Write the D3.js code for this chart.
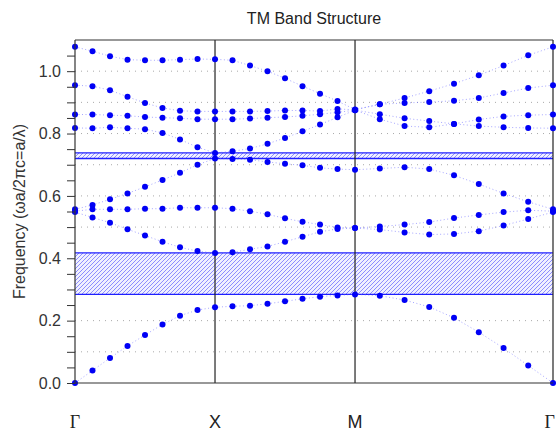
<!DOCTYPE html>
<html>
<head>
<meta charset="utf-8">
<script src="https://cdn.jsdelivr.net/npm/d3@7"></script>
<style>
  body { margin: 0; background: #fff; }
  svg { display: block; font-family: "Liberation Sans", Arial, sans-serif; }
</style>
</head>
<body>
<div id="chart"></div>
<script>
// k-path distance of every sampled k-point (Γ-X, X-M, M-Γ; 8 steps each)
const kPath = [0, 0.125, 0.25, 0.375, 0.5, 0.625, 0.75, 0.875, 1,
  1.125, 1.25, 1.375, 1.5, 1.625, 1.75, 1.875, 2,
  2.177, 2.354, 2.530, 2.707, 2.884, 3.061, 3.237, 3.414];
const kLabels = ['Γ', 'X', 'M', 'Γ'];
const kLabelPos = [0, 1, 2, 3.414];

// TM bands, normalized frequency ωa/2πc
const band1 = [0, 0.040, 0.080, 0.119, 0.154, 0.188, 0.216, 0.234, 0.243,
  0.246, 0.248, 0.254, 0.262, 0.270, 0.277, 0.281, 0.284,
  0.280, 0.266, 0.244, 0.209, 0.163, 0.112, 0.056, 0];
const band2 = [0.548, 0.531, 0.514, 0.493, 0.473, 0.453, 0.435, 0.423, 0.417,
  0.419, 0.429, 0.438, 0.453, 0.469, 0.485, 0.494, 0.497,
  0.492, 0.483, 0.476, 0.478, 0.487, 0.505, 0.526, 0.548];
const band3 = [0.551, 0.557, 0.557, 0.557, 0.559, 0.559, 0.562, 0.562, 0.562,
  0.559, 0.551, 0.541, 0.528, 0.517, 0.508, 0.499, 0.497,
  0.502, 0.508, 0.516, 0.529, 0.539, 0.548, 0.554, 0.551];
const band4 = [0.557, 0.571, 0.589, 0.608, 0.629, 0.651, 0.674, 0.700, 0.720,
  0.718, 0.716, 0.709, 0.703, 0.698, 0.690, 0.686, 0.684,
  0.688, 0.692, 0.686, 0.666, 0.638, 0.608, 0.581, 0.557];
const band5 = [0.818, 0.817, 0.820, 0.817, 0.814, 0.802, 0.781, 0.756, 0.738,
  0.743, 0.752, 0.767, 0.786, 0.807, 0.829, 0.852, 0.875,
  0.846, 0.824, 0.820, 0.831, 0.824, 0.820, 0.818, 0.817];
const band6 = [0.861, 0.861, 0.859, 0.857, 0.853, 0.851, 0.849, 0.846, 0.846,
  0.846, 0.848, 0.851, 0.853, 0.857, 0.862, 0.868, 0.875,
  0.862, 0.849, 0.840, 0.831, 0.845, 0.855, 0.859, 0.861];
const band7 = [0.955, 0.952, 0.939, 0.918, 0.898, 0.882, 0.873, 0.871, 0.871,
  0.871, 0.871, 0.872, 0.874, 0.874, 0.872, 0.879, 0.876,
  0.894, 0.898, 0.901, 0.905, 0.914, 0.930, 0.946, 0.955];
const band8 = [1.078, 1.064, 1.048, 1.037, 1.035, 1.035, 1.037, 1.039, 1.038,
  1.035, 1.018, 1.000, 0.977, 0.952, 0.928, 0.904, 0.877,
  0.894, 0.914, 0.936, 0.960, 0.987, 1.018, 1.051, 1.078];
const bands = [band1, band2, band3, band4, band5, band6, band7, band8];

// photonic band gaps
const gapLo = [0.284, 0.720];
const gapHi = [0.417, 0.738];

const yTicks = [0, 0.05, 0.1, 0.15, 0.2, 0.25, 0.3, 0.35, 0.4, 0.45, 0.5, 0.55,
  0.6, 0.65, 0.7, 0.75, 0.8, 0.85, 0.9, 0.95, 1.0, 1.05];
const yTickLabels = ['0.0', '', '', '', '0.2', '', '', '', '0.4', '', '', '',
  '0.6', '', '', '', '0.8', '', '', '', '1.0', ''];
const yGrid = [0.1, 0.2, 0.3, 0.4, 0.5, 0.6, 0.7, 0.8, 0.9, 1.0];

const W = 556, H = 433;
const margin = {left: 75, right: 3, top: 40, bottom: 50};

const svg = d3.select('#chart').append('svg')
  .attr('xmlns', 'http://www.w3.org/2000/svg')
  .attr('width', W)
  .attr('height', H);

const x = d3.scaleLinear()
  .domain([0, kLabelPos[kLabelPos.length - 1]])
  .range([margin.left, W - margin.right]);
const y = d3.scaleLinear()
  .domain([0, 1.1])
  .range([H - margin.bottom, margin.top]);

// hatch for the gaps
let pat = svg.append('defs').append('pattern')
  .attr('id', 'hatch')
  .attr('patternUnits', 'userSpaceOnUse')
  .attr('width', 4)
  .attr('height', 4);
pat.append('rect')
  .attr('width', 4).attr('height', 4)
  .attr('fill', '#f0f0ff');
pat.append('path')
  .attr('d', 'M-1,1 L1,-1 M0,4 L4,0 M3,5 L5,3')
  .attr('stroke', '#7373ff')
  .attr('stroke-width', 0.8)
  .attr('fill', 'none');

// dotted grid
svg.append('g').selectAll('line')
  .data(yGrid)
  .join('line')
  .attr('x1', x.range()[0])
  .attr('x2', x.range()[1])
  .attr('y1', d => y(d))
  .attr('y2', d => y(d))
  .attr('stroke', '#aaa')
  .attr('stroke-width', 1)
  .attr('stroke-dasharray', '1,5');

// band gaps
let gaps = svg.append('g').selectAll('g')
  .data(gapLo.map((lo, i) => ({lo: lo, hi: gapHi[i]})))
  .join('g');
gaps.append('rect')
  .attr('x', x.range()[0])
  .attr('width', x.range()[1] - x.range()[0])
  .attr('y', d => y(d.hi))
  .attr('height', d => y(d.lo) - y(d.hi))
  .attr('fill', 'url(#hatch)');
for (let k of ['lo', 'hi']) {
  gaps.append('line')
    .attr('x1', x.range()[0])
    .attr('x2', x.range()[1])
    .attr('y1', d => y(d[k]))
    .attr('y2', d => y(d[k]))
    .attr('stroke', '#1f1fff')
    .attr('stroke-width', 1.3);
}

// high-symmetry verticals + frame
svg.append('g').selectAll('line')
  .data(kLabelPos.slice(1))
  .join('line')
  .attr('x1', d => x(d))
  .attr('x2', d => x(d))
  .attr('y1', y.range()[1])
  .attr('y2', y.range()[0])
  .attr('stroke', '#222')
  .attr('stroke-width', 1.2);
svg.append('line')
  .attr('x1', x.range()[0]).attr('x2', x.range()[1])
  .attr('y1', y.range()[1]).attr('y2', y.range()[1])
  .attr('stroke', '#333').attr('stroke-width', 1.2);

// bands: faint dotted connectors then points
let line = d3.line()
  .x((d, i) => x(kPath[i]))
  .y(d => y(d));
svg.append('g').selectAll('path')
  .data(bands)
  .join('path')
  .attr('d', line)
  .attr('fill', 'none')
  .attr('stroke', '#6b6bff')
  .attr('stroke-opacity', 0.6)
  .attr('stroke-width', 1)
  .attr('stroke-dasharray', '1,2.5');
svg.append('g').selectAll('g')
  .data(bands)
  .join('g')
  .selectAll('circle')
  .data(d => d)
  .join('circle')
  .attr('cx', (d, i) => x(kPath[i]))
  .attr('cy', d => y(d))
  .attr('r', 3)
  .attr('fill', '#0000f5');

// axes
let yAxis = d3.axisLeft(y)
  .tickValues(yTicks)
  .tickFormat((d, i) => yTickLabels[i])
  .tickSize(8)
  .tickPadding(6);
let gy = svg.append('g')
  .attr('transform', `translate(${margin.left},0)`)
  .call(yAxis);
gy.select('.domain').attr('stroke', '#333').attr('stroke-width', 1.2)
  .attr('d', `M0,${y.range()[0]}V${y.range()[1]}`);
gy.selectAll('.tick line').attr('stroke', '#333');
gy.selectAll('.tick text')
  .attr('fill', '#333')
  .style('font-size', '16px')
  .style('font-family', '"Liberation Sans", Arial, sans-serif');

svg.append('line')
  .attr('x1', x.range()[0]).attr('x2', x.range()[1])
  .attr('y1', y.range()[0]).attr('y2', y.range()[0])
  .attr('stroke', '#333').attr('stroke-width', 1.2);

// k labels (last one kept inside the page edge)
let last = kLabels.length - 1;
svg.append('g').selectAll('text')
  .data(kLabels)
  .join('text')
  .attr('x', (d, i) => i == last ? W - 1 : x(kLabelPos[i]))
  .attr('y', 428)
  .attr('text-anchor', (d, i) => i == last ? 'end' : 'middle')
  .attr('fill', '#222')
  .style('font-size', '18px')
  .style('font-family', d => d == 'Γ' ? '"Liberation Serif", serif' : '"Liberation Sans", Arial, sans-serif')
  .text(d => d);

// titles
svg.append('text')
  .attr('x', (x.range()[0] + x.range()[1]) / 2)
  .attr('y', 24)
  .attr('text-anchor', 'middle')
  .attr('fill', '#222')
  .style('font-size', '16px')
  .text('TM Band Structure');

svg.append('text')
  .attr('transform', `translate(25,${(y.range()[0] + y.range()[1]) / 2}) rotate(-90)`)
  .attr('text-anchor', 'middle')
  .attr('fill', '#333')
  .style('font-size', '16px')
  .text('Frequency (ωa/2πc=a/λ)');
</script>
</body>
</html>
